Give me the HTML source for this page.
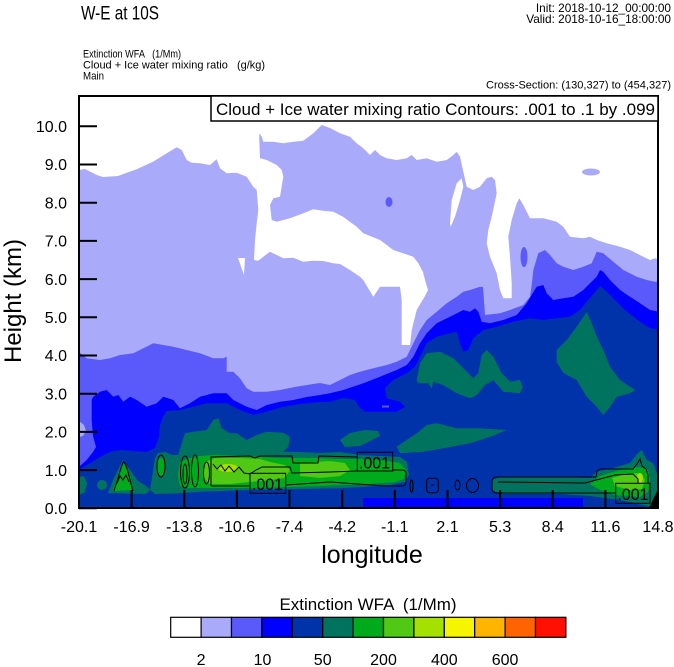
<!DOCTYPE html>
<html><head><meta charset="utf-8"><style>
html,body{margin:0;padding:0;background:#fff;}
svg{display:block;}
text{font-family:"Liberation Sans",Arial,sans-serif;fill:#000;}
</style></head><body>
<svg width="674" height="667" viewBox="0 0 674 667" xmlns="http://www.w3.org/2000/svg">
<defs><clipPath id="pc"><rect x="79" y="96" width="579" height="412"/></clipPath></defs>
<rect width="674" height="667" fill="#fff"/>

<g clip-path="url(#pc)">
<!-- lavender -->
<polygon fill="#AAAAFA" points="79,170 85,169 96.7,175 103,177 118,176 126.7,172.7 136.7,169.3 153,161.7 166.7,153.3 176.7,147.3 181.7,150 186.7,160 191.7,162.7 200,163.3 210,165 216.7,159.3 220,168.3 226.7,173.3 236.7,172.7 246.7,176.7 253.3,186.7 256.7,190 258.5,150 259.3,133.3 261.7,136.7 263.3,141.7 273.3,141.7 283.3,143.3 293.3,141.7 303.3,140.7 313.3,133.3 321.7,125 330,128 340,133.3 350,136.7 356.7,143.3 363.3,148.3 370,155 375,150 380,155 386.7,158.3 396.7,160 406.7,158.3 411.7,155 416.7,160 426.7,158.3 436.7,161.7 446.7,160 453.3,155 456.7,151.7 460,156.7 463.3,171.7 466.7,186.7 473.3,190 480,186.7 486.7,178.3 491.7,176.7 495,180 496.7,193.3 491.7,216.7 488.3,230 486.7,243.3 490,256.7 496.7,273.3 500,290 503.3,298.3 511.7,298.3 511.7,283.3 510,256.7 508.3,236.7 511.7,220 516.7,203.3 519.3,198.3 523.3,205 530,218.3 543.3,218.3 556.7,221.7 563.3,226.7 570,236.7 583.3,238.3 590,236.7 596.7,240 606.7,243.3 620,246.7 630,250 643.3,256.7 650,260 655,258.3 660,260 660,510 79,510"/>
<!-- white channel -->
<polygon fill="#fff" points="256.7,190 259,133 260,158.3 266.7,160 276.7,165 281.7,170 283.3,176.7 280,196.7 273.3,198.3 270,205 271.7,220 276.7,221.7 290,218.3 303.3,213.3 313.3,209.3 323.3,210.7 333.3,211.7 343,216.7 356.7,226.7 363.3,233.3 380,240 393.3,250 413.3,256.7 418.3,263.3 423,272 425,280 428,290 425,296 416.7,310 411.7,330 410,345 401.7,345 401.7,300 400,286.7 380,286.7 373.3,296.7 363.3,280 360,276.7 350,270 340,264 333.3,263.3 323.3,261 313.3,260.7 303.3,261.7 293.3,257.7 283.3,258.3 276.7,255 270,251.7 263.3,256.7 258.3,260.7 254,260 255,240 256.7,223.3 258.3,210"/>
<polygon fill="#fff" points="238,258 245,258 244,275"/>
<polygon fill="#fff" points="450,223.3 451.7,200 456.7,183.3 461.7,178.3 463.3,186.7 460,200 455,216.7 450.7,226.7"/>
<ellipse cx="591" cy="172" rx="9" ry="3.5" fill="#AAAAFA"/>
<ellipse cx="389" cy="202" rx="3.5" ry="5" fill="#5A5AFA"/>
<ellipse cx="524" cy="257" rx="3.5" ry="10" fill="#5A5AFA"/>

<!-- medium blue -->
<polygon fill="#5A5AFA" points="79,352 86.7,358.3 100,360 110,358.3 120,355 133.3,353.3 143.3,348.3 153.3,343.3 163.3,345 173.3,346.7 186.7,350 200,353.3 213.3,358.3 223.3,358.3 226.7,356.7 226.7,371.7 233.3,371.7 240,378.3 246.7,388.3 253.3,391.7 266.7,391.7 280,390 293.3,387.3 306.7,385 320,383 330,385 340,380 350,375 360,371.7 373.3,368.3 386.7,365 396.7,361.7 406.7,356.7 413.3,343.3 420,330 426.7,320 436.7,311.7 446.7,303.3 456.7,296.7 463.3,291.7 470,290 480,286.7 483,287 485,315 500,313.3 510,310 523.3,305 530,296.7 531.7,285 533.3,270 538.3,253.3 545,250 550,255 556.7,263.3 563.3,266.7 573.3,270 583.3,266.7 591.7,263.3 596.7,251.7 603.3,253.3 613.3,261.7 623.3,270 636.7,276.7 646.7,280 655,281.7 660,281.7 660,510 79,510"/>
<polygon fill="#AAAAFA" points="79,421 84,425 86,431 83,436 79,437"/>

<!-- blue -->
<polygon fill="#0000FF" points="79,466.7 86.7,460 93,452 96,447 93,436 91.7,420 91.7,400 93.3,396.7 100,391.7 106.7,390 113.3,396.7 118.3,395 123.3,401.7 130,396.7 136.7,400 146.7,406.7 156.7,403.3 163.3,396.7 173.3,400 180,408.3 190,403.3 200,396.7 213.3,393.3 226.7,393.3 233.3,400 246.7,406.7 256.7,410 266.7,405 280,401.7 293.3,400 306.7,397 320,395 330,393.3 343.3,390 363.3,383.3 380,376.7 396.7,370 406.7,365 413.3,356.7 420,343.3 426.7,333.3 436.7,323.3 450,316.7 463.3,310 470,311.7 475,308.3 478.3,311.7 481.7,321.7 490,323.3 503.3,320 516.7,315 526.7,303.3 531.7,295 536.7,286.7 543.3,285 546.7,293.3 553.3,300 563.3,298.3 573.3,296.7 583.3,290 590,283.3 596.7,276.7 600,270 603.3,271.7 610,280 620,290 630,296.7 640,303.3 650,310 660,311.7 660,510 79,510"/>

<!-- dark blue -->
<polygon fill="#0033AA" points="79,470 90,463.3 100,457 110,452 120,450 133.3,451 146.7,452 155,448 159,437 160,425 163,416.7 166.7,411 180,410 193.3,406.7 206.7,403.3 226.7,403.3 240,410 253.3,415 266.7,411.7 283.3,406.7 300,404 320,402 330,401.7 343.3,398 355,400 360,408 365,411.7 396.7,411.7 405,406.7 400,401.7 386.7,398.3 385,388 393.3,380 406.7,373.3 415,366.7 420,356.7 426.7,343.3 436.7,336.7 450,333.3 456.7,331.7 460,343.3 463.3,351.7 468.3,350 473.3,338.3 483.3,330 496.7,326.7 513.3,321.7 530,318.3 543.3,320 556.7,318.3 570,316.7 580,310 590,298 596.7,290 600,286 605,290 615,300 625,310 640,322 650,328 660,330 660,510 79,510"/>
<rect x="382" y="405.5" width="7" height="2" fill="#5A5AFA"/>

<!-- teal -->
<g fill="#00735F">
<polygon points="416.7,380 420,363.3 426.7,353.3 440,351.7 453.3,358.3 463.3,368.3 473.3,378.3 478.3,373.3 481.7,355 486.7,350 493.3,356.7 501.7,373.3 510,381.7 520,380 522.7,386.7 520,393.3 503.3,391.7 493.3,380 485,385 476.7,395 470,398.3 456.7,393.3 443.3,385 433.3,381.7 431.7,388.3 428.3,383.3 418.3,383.3"/>
<polygon points="556.7,350 566.7,340 576.7,326.7 586.7,312 591.7,323.3 596.7,336.7 603.3,350 610,366.7 620,380 635,390 630,393.3 616.7,396.7 610,406.7 603.3,415 596.7,406.7 586.7,396.7 576.7,380 563.3,373 556.7,362"/>
<polygon points="396.7,446.7 416.7,433.3 426.7,425 436.7,423.3 456.7,428.3 476.7,428.3 506.7,430 490,436.7 470,443.3 443.3,448.3 423.3,451.7 400,453.3"/>
<polygon points="340,440 350,433 365,430 378,431 380,436 372,440 360,446 345,447"/>
<polygon points="150,490 155,458 158,453 165,452 172,455 178,455 185,433.3 193.3,431.7 206.7,430 213.3,420 218.3,418.3 221.7,428.3 230,433.3 236.7,433.3 246.7,440 256.7,435 266.7,431.7 283.3,432.7 290,436.7 288.3,446.7 283.3,451.7 300,452 320,453 340,452 360,455 380,456 400,457 407,462 409,475 405,482 390,485 360,487 340,488.3 300,489 250,490 200,491.7 180,493.3 155,494"/>
<polygon points="79,477 84,476 87,483 85,492 79,495"/>
<ellipse cx="102" cy="485" rx="5" ry="5"/>
<polygon points="108,493 114,478 123,460 130,470 138,481 146,486 150,490 146,494"/>
<polygon points="492,480 500,477 560,477 590,478 596.7,471.7 613,468 630,463 638,453 641.7,450 646.7,460 653,463 656.7,473 660,480 660,500 650,506.7 620,500 590,496 560,494 500,494 492,490"/>
</g>

<!-- greens -->
<g fill="#00AB1B">
<polygon points="113,491 118,475 123,462 128,472 133,490"/>
<ellipse cx="161" cy="467" rx="4" ry="9"/>
<polygon points="180,462 190,458 200,456 215,455 240,456 260,457 280,458 300,458 320,458 340,459 360,459 380,460 400,463 406,470 404,479 395,482 370,484 340,485 320,486 290,487 250,488 210,488 190,488 180,486 178,475"/>
<polygon points="590,484 600,476 613,472 630,468 640,467 648,470 650,480 648,492 640,497 615,495 600,490"/>
</g>
<g fill="#50C814">
<polygon points="205,462 215,458 240,458 260,459 270,462 285,465 290,470 285,478 270,480 250,482 230,484 210,484 203,478"/>
<polygon points="300,463 330,461 345,463 350,470 340,476 320,478 300,476"/>
<polygon points="612,478 625,474 640,473 645,480 642,489 630,490 615,486"/>
</g>
<ellipse cx="228" cy="468" rx="10" ry="4" fill="#A5E100"/>
<ellipse cx="640" cy="478" rx="3" ry="5" fill="#A5E100"/>

<rect x="363" y="498" width="220" height="9" fill="#0000FF"/>
<polygon points="658,489 660,510 648,510" fill="#000"/>

<!-- contours -->
<g fill="none" stroke="#000" stroke-width="1">
<path d="M114,491 L118,478 L121,468 L123.3,461.7 L126,465 L128,472 L131,484 L133,491"/>
<path d="M117,483 L120,476 L123,480 L126,475 L129,482"/>
<ellipse cx="161" cy="466" rx="4" ry="11"/>
<ellipse cx="185" cy="472" rx="4.5" ry="16"/>
<ellipse cx="185" cy="474" rx="2" ry="10"/>
<ellipse cx="195" cy="471" rx="3.5" ry="16"/>
<ellipse cx="206.5" cy="473" rx="3" ry="11"/>
<path d="M211,486 L211,457 L250,456 L255,458 L260,456 L292,456 L293,463 L318,463 L319,456 L357,457"/>
<path d="M392.7,470 L402,470 Q406,470 406,474 L406,482 Q406,486 402,486 L386,486 L330,482 L286,485"/>
<path d="M250,486 L211,486"/>
<path d="M213,464 L217,469 L221,465 L225,471 L229,466 L234,472 L239,467 L244,473 L250,474 L256,470 L262,467 L290,467 L292,473 L330,472 L357,471"/>
<path d="M596,477 L497,477 Q492,477 492,482 L492,488 Q492,493 497,493 L615,493"/>
<path d="M596,477 L597,471 L600,469 L633,469 L637,464 L640,459 L642,466 L646,469 L648,475 L648,483"/>
<path d="M498,482 L585,483 L600,479 L615,475 L633,474 L638,479 L638,483"/>
<ellipse cx="411.5" cy="486" rx="1.5" ry="6"/>
<rect x="426.7" y="478.3" width="11.6" height="14.4" rx="3"/>
<path d="M431,485 L434,485"/>
<ellipse cx="457.5" cy="485" rx="2.5" ry="5"/>
<ellipse cx="472.5" cy="485.5" rx="6" ry="7"/>
<rect x="250" y="473.3" width="35.7" height="20"/>
<rect x="357.3" y="452.3" width="35.4" height="18.7"/>
<rect x="615.7" y="483.3" width="34.3" height="20"/>
</g>
<text x="252" y="490" font-size="17" textLength="31" lengthAdjust="spacingAndGlyphs">.001</text>
<text x="359" y="468.5" font-size="17" textLength="31" lengthAdjust="spacingAndGlyphs">.001</text>
<text x="617.5" y="500" font-size="17" textLength="31" lengthAdjust="spacingAndGlyphs">.001</text>
</g>

<!-- axes frame -->
<rect x="79" y="96" width="579" height="412" fill="none" stroke="#000" stroke-width="2"/>
<!-- y ticks -->
<g stroke="#000" stroke-width="2">
<line x1="79" y1="508.3" x2="97" y2="508.3"/>
<line x1="79" y1="470.1" x2="97" y2="470.1"/>
<line x1="79" y1="431.9" x2="97" y2="431.9"/>
<line x1="79" y1="393.7" x2="97" y2="393.7"/>
<line x1="79" y1="355.5" x2="97" y2="355.5"/>
<line x1="79" y1="317.3" x2="97" y2="317.3"/>
<line x1="79" y1="279.1" x2="97" y2="279.1"/>
<line x1="79" y1="240.9" x2="97" y2="240.9"/>
<line x1="79" y1="202.7" x2="97" y2="202.7"/>
<line x1="79" y1="164.5" x2="97" y2="164.5"/>
<line x1="79" y1="126.3" x2="97" y2="126.3"/>
<line x1="131.6" y1="508" x2="131.6" y2="490"/>
<line x1="184.3" y1="508" x2="184.3" y2="490"/>
<line x1="236.9" y1="508" x2="236.9" y2="490"/>
<line x1="289.5" y1="508" x2="289.5" y2="490"/>
<line x1="342.2" y1="508" x2="342.2" y2="490"/>
<line x1="394.8" y1="508" x2="394.8" y2="490"/>
<line x1="447.5" y1="508" x2="447.5" y2="490"/>
<line x1="500.1" y1="508" x2="500.1" y2="490"/>
<line x1="552.7" y1="508" x2="552.7" y2="490"/>
<line x1="605.4" y1="508" x2="605.4" y2="490"/>
</g>
<g font-size="16" text-anchor="end">
<text x="67" y="514">0.0</text>
<text x="67" y="475.8">1.0</text>
<text x="67" y="437.6">2.0</text>
<text x="67" y="399.4">3.0</text>
<text x="67" y="361.2">4.0</text>
<text x="67" y="323">5.0</text>
<text x="67" y="284.8">6.0</text>
<text x="67" y="246.6">7.0</text>
<text x="67" y="208.4">8.0</text>
<text x="67" y="170.2">9.0</text>
<text x="67" y="132">10.0</text>
</g>
<g font-size="16" text-anchor="middle">
<text x="79" y="532">-20.1</text>
<text x="131.6" y="532">-16.9</text>
<text x="184.3" y="532">-13.8</text>
<text x="236.9" y="532">-10.6</text>
<text x="289.5" y="532">-7.4</text>
<text x="342.2" y="532">-4.2</text>
<text x="394.8" y="532">-1.1</text>
<text x="447.5" y="532">2.1</text>
<text x="500.1" y="532">5.3</text>
<text x="552.7" y="532">8.4</text>
<text x="605.4" y="532">11.6</text>
<text x="658" y="532">14.8</text>
</g>
<text x="372" y="563" font-size="25" text-anchor="middle">longitude</text>
<text transform="translate(21,301) rotate(-90)" font-size="24" text-anchor="middle">Height (km)</text>

<!-- contour info box -->
<rect x="211" y="96" width="447" height="25" fill="#fff" stroke="#000" stroke-width="1.5"/>
<text x="216" y="115" font-size="17" textLength="439" lengthAdjust="spacingAndGlyphs">Cloud + Ice water mixing ratio Contours: .001 to .1 by .099</text>

<!-- titles -->
<text x="81" y="19.3" font-size="19" textLength="78" lengthAdjust="spacingAndGlyphs">W-E at 10S</text>
<text x="671" y="12" font-size="11.8" text-anchor="end">Init: 2018-10-12_00:00:00</text>
<text x="671" y="23" font-size="11.8" text-anchor="end">Valid: 2018-10-16_18:00:00</text>
<text x="83" y="57.3" font-size="11" textLength="98" lengthAdjust="spacingAndGlyphs" style="white-space:pre">Extinction WFA   (1/Mm)</text>
<text x="83" y="68.3" font-size="11" textLength="182" lengthAdjust="spacingAndGlyphs" style="white-space:pre">Cloud + Ice water mixing ratio   (g/kg)</text>
<text x="83" y="79.3" font-size="11" textLength="21" lengthAdjust="spacingAndGlyphs">Main</text>
<text x="671" y="88.3" font-size="11" text-anchor="end" textLength="185" lengthAdjust="spacingAndGlyphs">Cross-Section: (130,327) to (454,327)</text>

<!-- colorbar -->
<text x="368" y="610" font-size="17" text-anchor="middle" textLength="177" lengthAdjust="spacingAndGlyphs" style="white-space:pre">Extinction WFA  (1/Mm)</text>
<g stroke="#000" stroke-width="1.2">
<rect x="170.7" y="617.3" width="30.4" height="20" fill="#FFFFFF"/>
<rect x="201.1" y="617.3" width="30.4" height="20" fill="#AAAAFA"/>
<rect x="231.5" y="617.3" width="30.4" height="20" fill="#5A5AFA"/>
<rect x="261.9" y="617.3" width="30.4" height="20" fill="#0000FF"/>
<rect x="292.3" y="617.3" width="30.4" height="20" fill="#0033AA"/>
<rect x="322.7" y="617.3" width="30.4" height="20" fill="#00735F"/>
<rect x="353.1" y="617.3" width="30.4" height="20" fill="#00AB1B"/>
<rect x="383.5" y="617.3" width="30.4" height="20" fill="#50C814"/>
<rect x="413.9" y="617.3" width="30.4" height="20" fill="#A5E100"/>
<rect x="444.3" y="617.3" width="30.4" height="20" fill="#F5F500"/>
<rect x="474.7" y="617.3" width="30.4" height="20" fill="#FFB400"/>
<rect x="505.1" y="617.3" width="30.4" height="20" fill="#FF6400"/>
<rect x="535.5" y="617.3" width="30.4" height="20" fill="#FF1000"/>
</g>
<g font-size="16" text-anchor="middle">
<text x="201.1" y="665">2</text>
<text x="262.5" y="665">10</text>
<text x="322.7" y="665">50</text>
<text x="383.5" y="665">200</text>
<text x="444.3" y="665">400</text>
<text x="505.1" y="665">600</text>
</g>
</svg>
</body></html>
